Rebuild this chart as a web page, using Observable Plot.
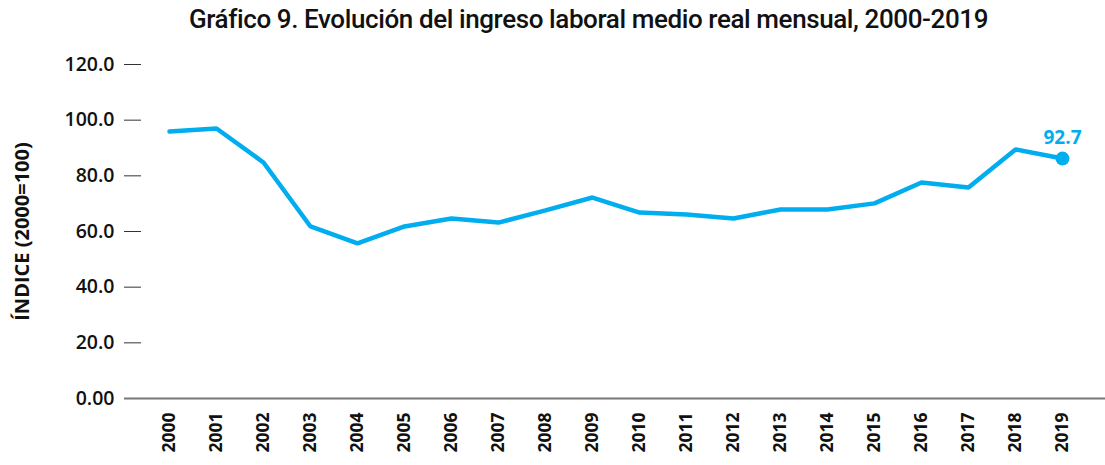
<!DOCTYPE html>
<html>
<head>
<meta charset="utf-8">
<script src="https://cdn.jsdelivr.net/npm/d3@7"></script>
<script src="https://cdn.jsdelivr.net/npm/@observablehq/plot@0.6"></script>
<style>
  html, body { margin: 0; padding: 0; background: #fff; }
  #title { height: 42px; line-height: 38px; text-align: center; padding-left: 72px; font-family: Roboto, sans-serif; font-weight: 500; font-size: 26px; color: #111; letter-spacing: -0.4px; }
</style>
</head>
<body>
<div id="title">Gráfico 9. Evolución del ingreso laboral medio real mensual, 2000-2019</div>
<div id="chart"></div>
<script>
const years = ["2000","2001","2002","2003","2004","2005","2006","2007","2008","2009","2010","2011","2012","2013","2014","2015","2016","2017","2018","2019"];
const values = [95.9, 97.0, 84.8, 61.8, 55.7, 61.8, 64.7, 63.2, 67.6, 72.2, 66.8, 66.1, 64.7, 67.9, 67.9, 70.1, 77.6, 75.8, 89.5, 86.2];
const yTicks = [0, 20, 40, 60, 80, 100, 120];
const yTickLabels = ["0.00", "20.0", "40.0", "60.0", "80.0", "100.0", "120.0"];
const yLabel = "ÍNDICE (2000=100)";
const endLabel = "92.7";
const lineColor = "#00adef";

const data = years.map((y, i) => ({year: y, value: values[i]}));
const last = data[data.length - 1];

const chart = Plot.plot({
  width: 1105,
  height: 423,
  marginLeft: 141,
  marginRight: 0,
  marginTop: 22,
  marginBottom: 67,
  insetLeft: 22,
  insetRight: 38,
  style: { fontFamily: "'Open Sans', sans-serif", color: "#111", background: "#fff" },
  x: { type: "point", domain: years, padding: 0 },
  y: { domain: [0, 120] },
  marks: [
    Plot.axisY({
      ticks: yTicks,
      tickFormat: (d) => yTickLabels[yTicks.indexOf(d)],
      tickSize: 17,
      tickPadding: 10,
      stroke: "#333",
      strokeWidth: 1,
      fontSize: 19.5,
      fontWeight: 600,
      label: null
    }),
    Plot.text([yLabel], { frameAnchor: "left", textAnchor: "middle", dx: -119, rotate: -90, text: (d) => d, fontSize: 20, fontWeight: 700, fill: "#111" }),
    Plot.axisX({
      tickSize: 0,
      tickPadding: 14,
      tickRotate: -90,
      fontSize: 17.5,
      fontWeight: 700,
      label: null
    }),
    Plot.ruleY([0], { stroke: "#777", strokeWidth: 2, insetLeft: -17, insetRight: 0 }),
    Plot.line(data, { x: "year", y: "value", stroke: lineColor, strokeWidth: 4.5, strokeLinejoin: "miter" }),
    Plot.dot([last], { x: "year", y: "value", r: 7, fill: lineColor }),
    Plot.text([last], { x: "year", y: "value", text: () => endLabel, dy: -21, fill: lineColor, fontSize: 19, fontWeight: 700 })
  ]
});
document.getElementById("chart").appendChild(chart);
</script>
</body>
</html>
